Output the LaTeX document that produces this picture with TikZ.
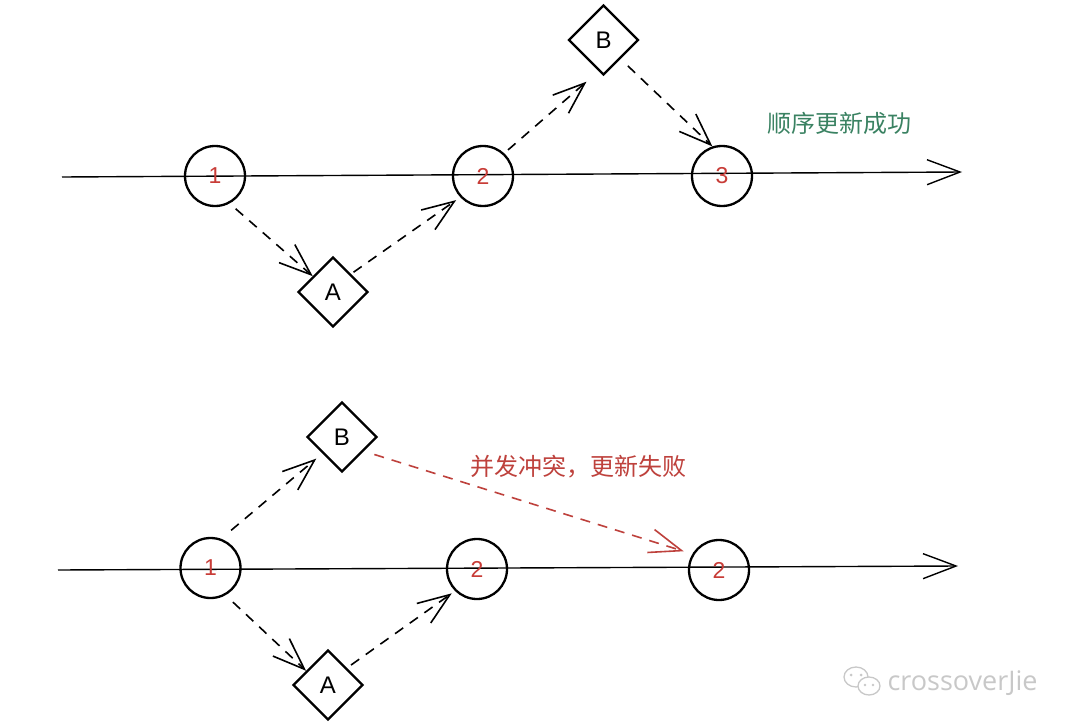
\documentclass[tikz,border=0pt]{standalone}
\usepackage{fontspec}
\setmainfont{Liberation Sans}
\newfontfamily\cjk{Noto Sans CJK SC}
\newfontfamily\wm{Open Sans}
\usetikzlibrary{shapes.geometric,arrows.meta}
\definecolor{numred}{RGB}{200,60,55}
\definecolor{okgreen}{RGB}{58,130,98}
\definecolor{failred}{RGB}{190,65,60}
\definecolor{wmgray}{RGB}{200,200,200}
\tikzset{
  evt/.style={circle,draw=black,line width=2.3pt,minimum size=60pt,inner sep=0pt,
    text=numred,font=\fontsize{23}{25}\selectfont},
  upd/.style={diamond,aspect=1,draw=black,line width=2.2pt,minimum size=70pt,inner sep=0pt,
    font=\fontsize{24}{26}\selectfont},
  timeline/.style={line width=1.4pt,-{Straight Barb[length=33pt,width=25pt]}},
  flow/.style={line width=1.6pt,dash pattern=on 10pt off 8pt,-{Straight Barb[length=32pt,width=24pt]}},
}
\begin{document}
\begin{tikzpicture}[x=1pt,y=-1pt]
\useasboundingbox[fill=white] (0,0) rectangle (1080,728);
% ---------- top ----------
\coordinate (t0) at (62,177);
\coordinate (t1) at (962,172);
\draw[timeline] (t0) -- (t1);
\node[evt] (c1) at (215,176) {1};
\node[evt] (c2) at (483,176) {2};
\node[evt] (c3) at (722,176) {3};
\node[upd] (A1) at (333,292) {A};
\node[upd] (B1) at (603.5,40) {B};
\draw[flow,shorten <=8pt] (c1.-62) -- (A1.142);
\draw[flow,shorten <=3pt,shorten >=5pt] (A1.45) -- (c2.223);
\draw[flow,shorten <=5pt,shorten >=16pt] (c2.47) -- (B1.261);
\draw[flow,shorten <=10pt] (B1.-48) -- (c3.108);
\node[text=okgreen,font=\cjk\fontsize{24}{28}\selectfont] (ok) at (839,123) {顺序更新成功};
% ---------- bottom ----------
\coordinate (b0) at (58,570);
\coordinate (b1) at (958,566);
\draw[timeline] (b0) -- (b1);
\node[evt] (d1) at (210.5,568) {1};
\node[evt] (d2) at (477,569) {2};
\node[evt] (d3) at (719,570) {2};
\node[upd] (B2) at (342,437) {B};
\node[upd] (A2) at (328,685) {A};
\draw[flow,shorten <=13pt,shorten >=8pt] (d1.70.5) -- (B2.220);
\draw[flow,shorten <=10pt] (d1.-61) -- (A2.147);
\draw[flow,shorten <=5pt,shorten >=4pt] (A2.42) -- (d2.225);
\draw[flow,draw=failred,shorten <=11pt,shorten >=9pt] (B2.-33.7) -- (d3.149);
\node[text=failred,font=\cjk\fontsize{24}{28}\selectfont] (fail) at (578,467) {并发冲突，更新失败};
% ---------- watermark ----------
\begin{scope}[draw=wmgray,line width=1.3pt]
  \draw (856,677) ellipse [x radius=12pt,y radius=10pt];
  \draw[fill=white] (869,686) ellipse [x radius=11pt,y radius=9pt];
  \fill[wmgray] (851,675) circle (1.5pt) (861,675) circle (1.5pt)
                (865,685) circle (1.3pt) (873,685) circle (1.3pt);
\end{scope}
\node[text=wmgray,font=\wm\fontsize{27}{30}\selectfont,anchor=west] (wmtext) at (884,683) {crossoverJie};
\end{tikzpicture}
\end{document}
